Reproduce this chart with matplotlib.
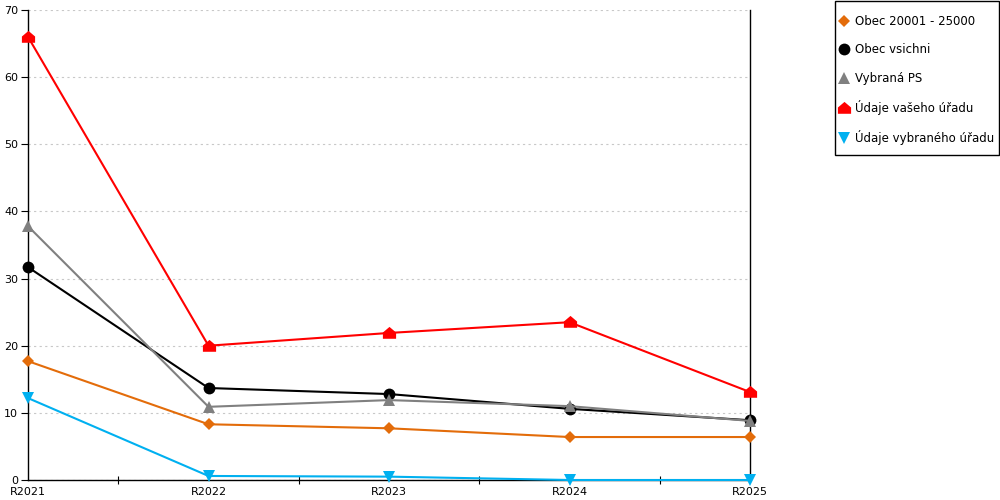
import matplotlib
matplotlib.use("Agg")
import matplotlib.pyplot as plt
import numpy as np
from matplotlib.path import Path
from matplotlib.patches import Rectangle
from matplotlib.ticker import FixedLocator, NullFormatter

YEARS = ["R2021", "R2022", "R2023", "R2024", "R2025"]
SERIES_NAMES = [
    "Obec 20001 - 25000",
    "Obec vsichni",
    "Vybraná PS",
    "Údaje vašeho úřadu",
    "Údaje vybraného úřadu",
]
OBEC_20001 = [17.7, 8.3, 7.7, 6.4, 6.4]
OBEC_VSICHNI = [31.7, 13.7, 12.8, 10.6, 8.9]
VYBRANA_PS = [37.8, 10.9, 11.9, 11.0, 8.8]
VASEHO_URADU = [66.0, 20.0, 21.9, 23.5, 13.1]
VYBRANEHO_URADU = [12.2, 0.6, 0.5, 0.0, 0.0]

house = Path(
    [(-1, -0.8), (1, -0.8), (1, 0.15), (0, 1), (-1, 0.15), (-1, -0.8)],
    [Path.MOVETO, Path.LINETO, Path.LINETO, Path.LINETO, Path.LINETO, Path.CLOSEPOLY],
)

STYLES = [
    ("#E36C0A", "D", 6.5),
    ("#000000", "o", 8.5),
    ("#808080", "^", 8.5),
    ("#FF0000", house, 9.5),
    ("#00B0F0", "v", 8.5),
]

plt.rcParams["font.family"] = "DejaVu Sans"

fig = plt.figure(figsize=(10, 5), dpi=100)
ax = fig.add_axes([0.028, 0.04, 0.722, 0.94])

x = np.arange(len(YEARS))
data = [OBEC_20001, OBEC_VSICHNI, VYBRANA_PS, VASEHO_URADU, VYBRANEHO_URADU]
handles = []
for vals, name, (col, mk, ms) in zip(data, SERIES_NAMES, STYLES):
    (h,) = ax.plot(x, vals, color=col, lw=1.5, marker=mk, markersize=ms,
                   markeredgewidth=0, clip_on=False, label=name, zorder=3)
    handles.append(h)

ax.set_xlim(0, len(YEARS) - 1)
ax.set_ylim(0, 70)
ax.set_yticks(np.arange(0, 71, 10))
ax.yaxis.grid(True, color="#C8C8C8", linestyle=(0, (2, 3)), lw=0.8)
ax.set_axisbelow(True)

ax.set_xticks(x)
ax.set_xticklabels(YEARS)
ax.xaxis.set_minor_locator(FixedLocator(x[:-1] + 0.5))
ax.xaxis.set_minor_formatter(NullFormatter())
ax.tick_params(axis="x", which="major", length=0, pad=5, labelsize=8)
ax.tick_params(axis="x", which="minor", length=6, direction="inout", width=0.8)
ax.tick_params(axis="y", length=5, width=0.8, labelsize=8, pad=2)

ax.spines["top"].set_visible(False)
for s in ["left", "right", "bottom"]:
    ax.spines[s].set_linewidth(1.0)

# legend box drawn separately so the padding can differ per side
leg = fig.legend(handles=handles, loc="upper left", bbox_to_anchor=(0.840, 0.970),
                 frameon=False, fontsize=8.5, labelspacing=1.3,
                 handlelength=0.6, handletextpad=0.7, borderpad=0,
                 borderaxespad=0)
for lh in leg.legend_handles:
    lh.set_linestyle("none")
fig.patches.append(Rectangle((0.835, 0.69), 0.164, 0.309, transform=fig.transFigure,
                             fill=False, edgecolor="black", linewidth=1.0))

fig.savefig("out.png", dpi=100)
